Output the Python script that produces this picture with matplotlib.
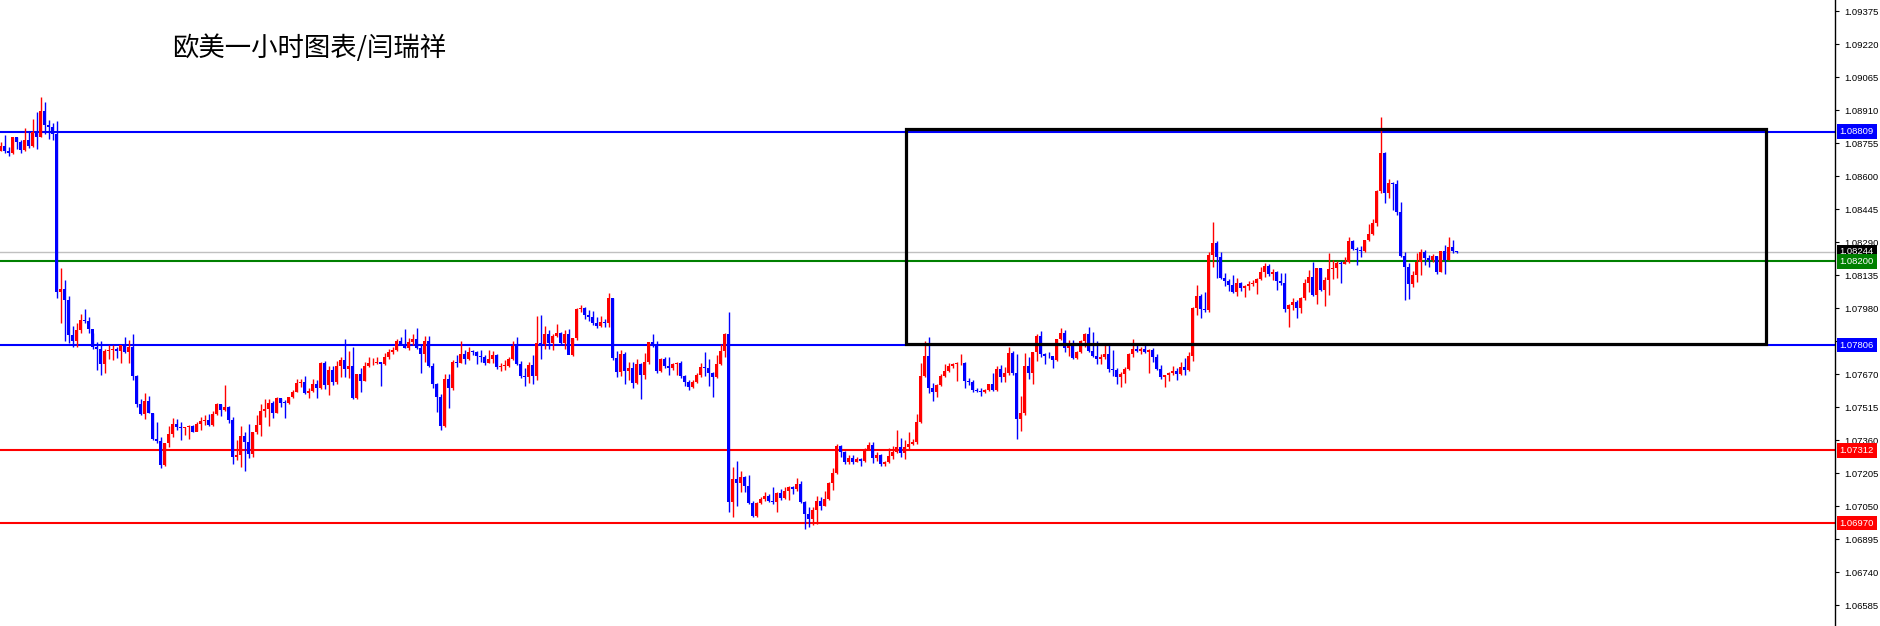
import numpy as np
import matplotlib
matplotlib.use("Agg")
import matplotlib.pyplot as plt
import matplotlib.transforms as mtransforms
from matplotlib.patches import Rectangle

plt.rcParams['font.family'] = ['Liberation Sans', 'DejaVu Sans']

# EURUSD 1h candles, prices in points above 1.00000 (1 point = 0.00001)
first_open = 8719
closes = [
    8741, 8719, 8710, 8783, 8761, 8722, 8769, 8741, 8807, 8785,
    8905, 8840, 8832, 8797, 8057, 8069, 8017, 7853, 7825, 7877,
    7924, 7920, 7884, 7798, 7789, 7717, 7779, 7783, 7787, 7779,
    7806, 7775, 7798, 7660, 7529, 7482, 7543, 7489, 7365, 7357,
    7243, 7345, 7387, 7434, 7420, 7415, 7421, 7426, 7399, 7434,
    7450, 7454, 7431, 7482, 7529, 7501, 7514, 7454, 7282, 7288,
    7379, 7352, 7295, 7396, 7431, 7497, 7506, 7536, 7489, 7556,
    7536, 7533, 7561, 7587, 7630, 7634, 7583, 7590, 7623, 7603,
    7724, 7619, 7689, 7634, 7708, 7736, 7694, 7708, 7556, 7670,
    7639, 7710, 7720, 7724, 7727, 7717, 7752, 7775, 7783, 7827,
    7811, 7794, 7819, 7833, 7794, 7764, 7824, 7708, 7623, 7564,
    7426, 7647, 7606, 7728, 7724, 7764, 7741, 7775, 7774, 7755,
    7750, 7724, 7741, 7760, 7705, 7708, 7710, 7741, 7804, 7717,
    7661, 7658, 7713, 7663, 7814, 7811, 7858, 7814, 7849, 7861,
    7814, 7858, 7760, 7838, 7976, 7982, 7948, 7937, 7908, 7896,
    7915, 7912, 8029, 7744, 7681, 7764, 7686, 7699, 7630, 7717,
    7667, 7727, 7819, 7802, 7686, 7741, 7708, 7697, 7716, 7721,
    7663, 7634, 7611, 7631, 7666, 7705, 7700, 7674, 7658, 7717,
    7778, 7857, 7071, 7177, 7160, 7188, 7146, 7067, 7003, 7066,
    7083, 7099, 7074, 7071, 7113, 7086, 7122, 7138, 7130, 7154,
    7071, 7013, 6989, 7031, 7074, 7052, 7083, 7160, 7204, 7334,
    7302, 7258, 7274, 7258, 7271, 7262, 7318, 7337, 7277, 7290,
    7246, 7258, 7287, 7305, 7329, 7298, 7329, 7341, 7349, 7443,
    7661, 7755, 7606, 7587, 7619, 7663, 7686, 7708, 7717, 7720,
    7724, 7639, 7634, 7595, 7592, 7587, 7595, 7623, 7595, 7694,
    7655, 7673, 7771, 7673, 7460, 7486, 7708, 7677, 7774, 7850,
    7763, 7756, 7753, 7736, 7835, 7864, 7794, 7807, 7744, 7774,
    7827, 7858, 7778, 7755, 7741, 7752, 7764, 7694, 7691, 7658,
    7670, 7694, 7763, 7788, 7778, 7788, 7774, 7783, 7749, 7692,
    7655, 7666, 7677, 7686, 7670, 7705, 7689, 7755, 7979, 8037,
    7974, 7971, 8230, 8288, 8222, 8120, 8109, 8089, 8057, 8097,
    8073, 8084, 8093, 8098, 8117, 8148, 8178, 8139, 8148, 8109,
    8100, 7976, 7995, 8007, 7982, 8026, 8097, 8125, 8042, 8167,
    8065, 8112, 8162, 8170, 8194, 8187, 8197, 8296, 8257, 8252,
    8248, 8299, 8327, 8381, 8531, 8710, 8522, 8566, 8561, 8432,
    8224, 8174, 8093, 8135, 8198, 8244, 8216, 8208, 8226, 8151,
    8248, 8208, 8268, 8249, 8244,
]
highs = [
    8760, 8793, 8738, 8783, 8783, 8769, 8827, 8808, 8868, 8899,
    8973, 8949, 8863, 8847, 8860, 8169, 8111, 8038, 7895, 7911,
    7952, 7974, 7936, 7861, 7822, 7825, 7790, 7806, 7806, 7798,
    7806, 7842, 7830, 7858, 7666, 7554, 7580, 7567, 7489, 7445,
    7376, 7345, 7426, 7465, 7461, 7446, 7421, 7431, 7431, 7446,
    7470, 7478, 7482, 7497, 7536, 7529, 7619, 7520, 7470, 7360,
    7426, 7399, 7434, 7396, 7478, 7529, 7551, 7553, 7545, 7564,
    7560, 7548, 7561, 7595, 7647, 7647, 7661, 7603, 7647, 7640,
    7728, 7731, 7708, 7708, 7733, 7752, 7835, 7778, 7799, 7670,
    7697, 7728, 7752, 7744, 7749, 7727, 7767, 7786, 7799, 7833,
    7843, 7882, 7838, 7858, 7885, 7811, 7849, 7849, 7720, 7630,
    7575, 7670, 7670, 7735, 7760, 7825, 7783, 7796, 7785, 7778,
    7783, 7760, 7783, 7778, 7765, 7721, 7736, 7749, 7825, 7843,
    7730, 7697, 7728, 7760, 7944, 7948, 7896, 7877, 7858, 7905,
    7870, 7877, 7880, 7838, 7980, 7995, 7985, 7971, 7966, 7937,
    7943, 7927, 8049, 8029, 7780, 7783, 7772, 7728, 7728, 7739,
    7720, 7768, 7822, 7858, 7825, 7745, 7749, 7749, 7722, 7726,
    7733, 7665, 7642, 7640, 7674, 7724, 7772, 7741, 7680, 7760,
    7811, 7865, 7962, 7235, 7262, 7215, 7190, 7196, 7075, 7070,
    7094, 7114, 7105, 7138, 7118, 7130, 7138, 7145, 7145, 7180,
    7168, 7075, 7045, 7045, 7099, 7092, 7122, 7165, 7227, 7341,
    7337, 7310, 7290, 7290, 7282, 7274, 7322, 7352, 7352, 7305,
    7295, 7262, 7321, 7334, 7407, 7371, 7360, 7399, 7363, 7481,
    7724, 7827, 7846, 7630, 7625, 7670, 7717, 7720, 7720, 7728,
    7764, 7728, 7650, 7640, 7605, 7605, 7598, 7625, 7677, 7708,
    7713, 7702, 7796, 7778, 7763, 7567, 7767, 7752, 7774, 7858,
    7872, 7770, 7772, 7747, 7835, 7888, 7877, 7830, 7830, 7778,
    7830, 7861, 7893, 7869, 7827, 7765, 7811, 7807, 7783, 7700,
    7681, 7702, 7767, 7835, 7807, 7796, 7807, 7786, 7791, 7763,
    7713, 7666, 7681, 7709, 7700, 7728, 7747, 7774, 7987, 8089,
    8045, 8057, 8245, 8386, 8295, 8245, 8144, 8117, 8136, 8120,
    8102, 8089, 8108, 8112, 8120, 8172, 8190, 8187, 8162, 8152,
    8144, 8147, 8001, 8026, 8018, 8031, 8117, 8159, 8198, 8170,
    8170, 8125, 8241, 8206, 8199, 8199, 8221, 8315, 8300, 8268,
    8273, 8302, 8374, 8398, 8537, 8879, 8714, 8586, 8570, 8581,
    8479, 8244, 8190, 8155, 8240, 8257, 8251, 8229, 8234, 8226,
    8250, 8276, 8315, 8299, 8250,
]
lows = [
    8719, 8710, 8696, 8706, 8727, 8710, 8717, 8733, 8738, 8727,
    8785, 8800, 8774, 8769, 8028, 7911, 7825, 7814, 7798, 7798,
    7861, 7908, 7861, 7786, 7689, 7665, 7673, 7743, 7736, 7747,
    7720, 7767, 7720, 7642, 7514, 7478, 7461, 7486, 7360, 7345,
    7227, 7240, 7329, 7376, 7407, 7360, 7384, 7365, 7399, 7404,
    7407, 7431, 7426, 7428, 7478, 7473, 7495, 7442, 7248, 7266,
    7235, 7216, 7274, 7282, 7390, 7381, 7470, 7428, 7462, 7486,
    7517, 7462, 7530, 7559, 7585, 7611, 7575, 7559, 7585, 7559,
    7600, 7598, 7572, 7619, 7625, 7655, 7658, 7650, 7551, 7553,
    7587, 7636, 7705, 7712, 7718, 7614, 7712, 7741, 7764, 7780,
    7808, 7791, 7783, 7807, 7788, 7677, 7728, 7705, 7603, 7493,
    7407, 7420, 7509, 7595, 7705, 7720, 7717, 7738, 7760, 7717,
    7728, 7713, 7720, 7721, 7694, 7686, 7689, 7705, 7738, 7713,
    7650, 7614, 7630, 7623, 7642, 7741, 7788, 7788, 7783, 7843,
    7810, 7788, 7822, 7755, 7830, 7960, 7929, 7921, 7901, 7888,
    7890, 7893, 7890, 7736, 7658, 7661, 7623, 7642, 7603, 7625,
    7551, 7645, 7717, 7795, 7674, 7680, 7697, 7666, 7689, 7666,
    7650, 7616, 7595, 7605, 7628, 7655, 7660, 7616, 7561, 7650,
    7712, 7752, 7024, 7000, 7052, 7114, 7114, 7060, 6997, 6997,
    7060, 7075, 7068, 7062, 7024, 7080, 7082, 7080, 7107, 7122,
    7066, 6941, 6953, 6961, 6966, 7030, 7050, 7080, 7125, 7200,
    7282, 7248, 7250, 7250, 7255, 7240, 7256, 7314, 7251, 7262,
    7240, 7240, 7252, 7271, 7300, 7282, 7272, 7318, 7335, 7340,
    7440, 7655, 7583, 7545, 7564, 7615, 7658, 7680, 7698, 7639,
    7712, 7606, 7620, 7588, 7586, 7569, 7580, 7590, 7590, 7590,
    7631, 7631, 7666, 7665, 7363, 7404, 7480, 7647, 7622, 7733,
    7750, 7717, 7745, 7700, 7730, 7830, 7775, 7755, 7740, 7742,
    7768, 7796, 7775, 7750, 7717, 7716, 7740, 7681, 7661, 7623,
    7611, 7626, 7690, 7752, 7774, 7764, 7771, 7677, 7728, 7688,
    7647, 7611, 7639, 7668, 7642, 7665, 7665, 7684, 7731, 7948,
    7932, 7960, 7960, 8175, 8120, 8116, 8084, 8062, 8050, 8037,
    8060, 8034, 8065, 8082, 8046, 8110, 8128, 8130, 8112, 8065,
    8090, 7963, 7893, 7971, 7935, 7959, 8020, 8057, 8038, 7999,
    8060, 7990, 8042, 8115, 8120, 8100, 8185, 8190, 8255, 8182,
    8221, 8245, 8295, 8325, 8365, 8522, 8475, 8498, 8440, 8417,
    8220, 8017, 8025, 8077, 8104, 8135, 8182, 8174, 8197, 8140,
    8148, 8140, 8205, 8240, 8240,
]

# horizontal levels (price, colour)
level_prices = [1.08809, 1.07806, 1.07312, 1.06970, 1.08200]
level_colors = ['#0000ff', '#0000ff', '#ff0000', '#ff0000', '#008000']
bid_price = 1.08244

# analysis box (candle index range, price range)
box_x = [226.25, 441.25]
box_y = [1.07810, 1.08820]

tick_values = [1.06585 + 0.00155 * k for k in range(19)]
title = '欧美一小时图表/闫瑞祥'

c = 1 + np.array(closes) / 1e5
h = 1 + np.array(highs) / 1e5
l = 1 + np.array(lows) / 1e5
o = np.concatenate([[1 + first_open / 1e5], c[:-1]])
x = np.arange(len(c))

fig = plt.figure(figsize=(18.81, 6.26), dpi=100)
ax = fig.add_axes([0, 0, 1835 / 1881, 1])
ax.set_xlim(-0.25, 458.5)
ax.set_ylim(1.06487, 1.09427)

cols = np.where(c > o, '#ff0000', np.where(c < o, '#0000ff', '#000000'))

# lines first, candles above
for p, col in zip(level_prices, level_colors):
    ax.axhline(p, color=col, lw=1.5, zorder=2)
ax.axhline(bid_price, color='#c0c0c0', lw=1, zorder=1)

ax.vlines(x, l, h, colors=cols, lw=1.0, zorder=3)
bottom = np.minimum(o, c)
height = np.maximum(np.abs(c - o), 0.00004)
ax.bar(x, height, bottom=bottom, width=0.75, color=cols, zorder=4, linewidth=0)

ax.add_patch(Rectangle((box_x[0], box_y[0]), box_x[1] - box_x[0], box_y[1] - box_y[0],
                       fill=False, ec='black', lw=2.3, zorder=5))

# right price scale; the 1.07825 label sits under the 1.07806 marker
for s in ['left', 'top', 'bottom']:
    ax.spines[s].set_visible(False)
ax.spines['right'].set_linewidth(1.0)
ax.yaxis.tick_right()
ax.set_yticks(tick_values)
tick_labels = ['' if abs(v - 1.07825) < 1e-6 else '%.5f' % v for v in tick_values]
ax.set_yticklabels(tick_labels, fontsize=6.8)
ax.tick_params(axis='y', length=3, width=0.8, pad=4)
ax.set_xticks([])

trans = mtransforms.blended_transform_factory(ax.transAxes, ax.transData)
label_items = [(bid_price, '#000000')] + list(zip(level_prices, level_colors))
for p, col in label_items:
    ax.text(1.0025, p, '%.5f' % p, transform=trans, fontsize=6.8, color='white',
            va='center', ha='left', clip_on=False, zorder=10,
            bbox=dict(boxstyle='square,pad=0.3', fc=col, ec='none'))

fig.text(172 / 1881, 1 - 48 / 626, title, fontsize=19, va='center', ha='left',
         family=['Noto Sans CJK SC', 'DejaVu Sans'])

fig.savefig('out.png', dpi=100, facecolor='white')
